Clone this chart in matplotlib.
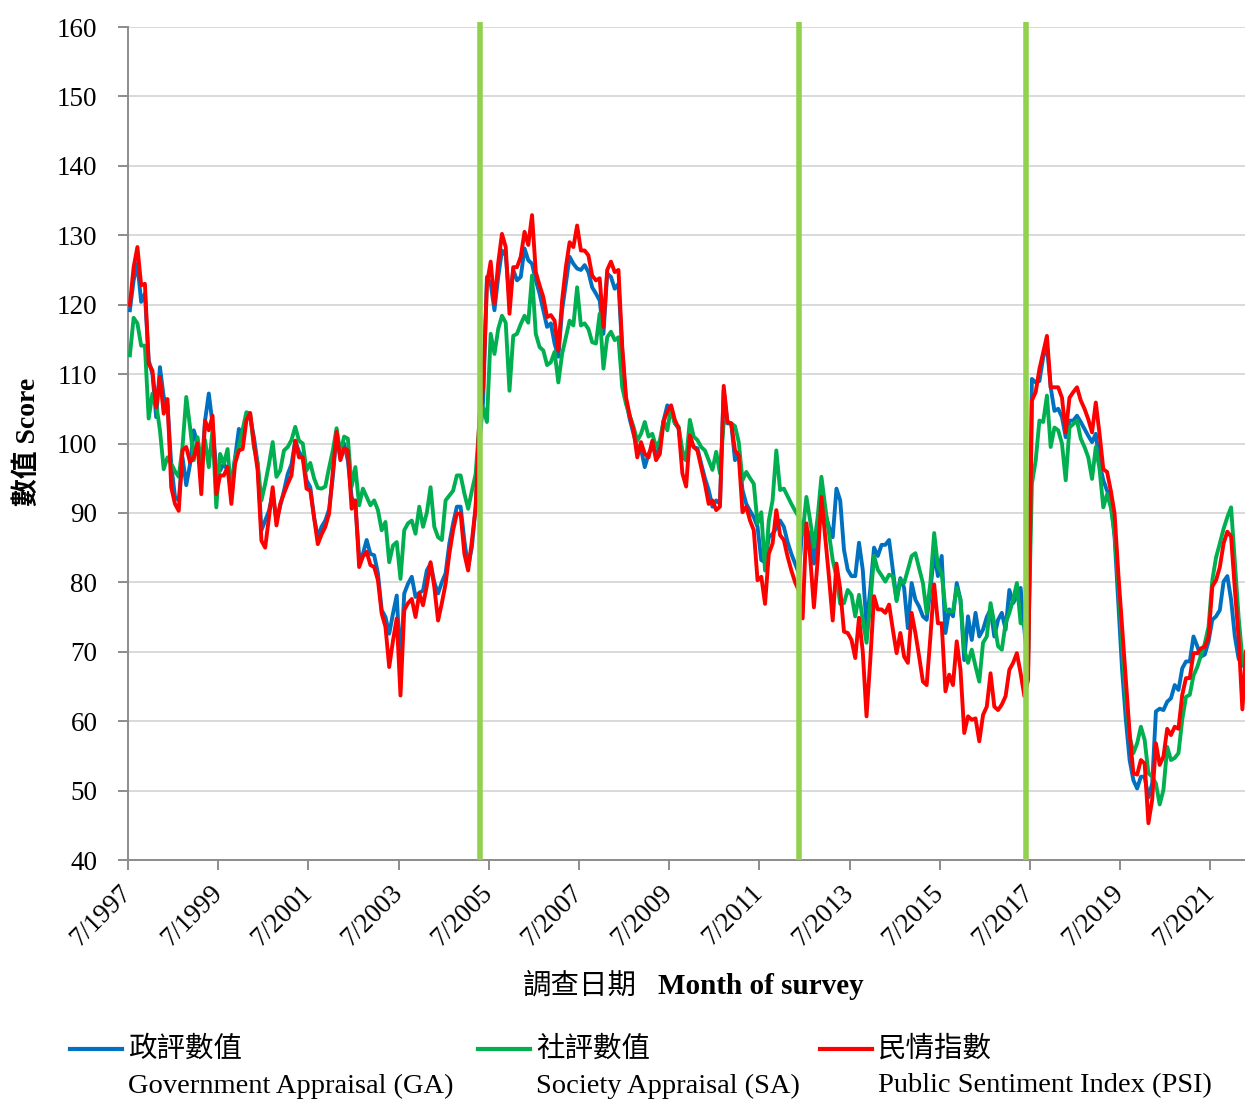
import numpy as np
import matplotlib
matplotlib.use("Agg")
import matplotlib.pyplot as plt
from matplotlib.lines import Line2D
from matplotlib.transforms import ScaledTranslation

# Monthly survey results, first entry = July 1997
psi = [
    120, 125.4, 128.3, 122.8, 123, 111.5, 110.5, 105.2, 109.6, 104.3,
    106.4, 93.7, 91.3, 90.3, 99, 99.5, 97.3, 98, 100, 92.7,
    103.3, 101.9, 104, 92.7, 95.4, 95.4, 96.6, 91.3, 97.1, 99,
    99.2, 103.3, 104.4, 100, 96.1, 86, 85, 89.4, 93.7, 88.2,
    91.3, 92.8, 94.2, 95.4, 100.4, 98, 98, 93.5, 93.2, 89.4,
    85.5, 86.9, 88, 89.9, 96, 101.7, 97.6, 99.3, 99, 90.6,
    91.8, 82.2, 83.7, 84.4, 82.5, 82.2, 80.3, 75.5, 73.6, 67.8,
    71.6, 74.8, 63.7, 76, 77, 77.6, 75, 78.4, 76.7, 79.5,
    82.9, 79.3, 74.5, 77, 79.8, 84.1, 87.5, 89.9, 89.9, 84.1,
    81.7, 86, 90.8, 104, 108.1, 123, 126.2, 120.1, 126, 130.2,
    128.3, 118.7, 125.4, 125.4, 126.9, 130.5, 128.6, 132.9, 124.7, 122.8,
    121.1, 118.2, 118.5, 117.7, 113.4, 120.6, 125.4, 129, 128.3, 131.4,
    127.8, 127.8, 127.1, 124.2, 123.5, 123.8, 116.8, 125, 126.2, 124.7,
    125, 113.9, 106.7, 104, 101.9, 98, 100.2, 98.5, 98, 100.4,
    97.6, 98.5, 103.2, 104.6, 105.5, 103.4, 102.2, 95.7, 93.8, 101.2,
    99.5, 99, 96.6, 94.2, 91.3, 91.8, 90.4, 90.9, 108.3, 103.1,
    102.9, 99, 98.3, 90.1, 90.9, 88.9, 87.5, 80.3, 80.8, 76.9,
    84.1, 85.6, 90.4, 86.8, 86.1, 83.7, 81.7, 80, 78.8, 74.8,
    88.5, 83.7, 76.4, 83.2, 92.3, 86.5, 80.8, 74.5, 82.7, 79,
    72.9, 72.7, 71.7, 69.1, 74.9, 70, 60.7, 68.8, 78, 76.1,
    76.1, 75.6, 76.8, 73.2, 69.8, 72.7, 69.3, 68.4, 75.6, 72.7,
    69.3, 65.7, 65.2, 72.2, 79.7, 74.1, 74.1, 64.3, 66.7, 65.2,
    71.5, 67.4, 58.3, 60.7, 60.2, 60.4, 57.1, 60.9, 62.1, 66.9,
    62.1, 61.6, 62.4, 63.6, 67.4, 68.4, 69.8, 66.9, 63.6, 66,
    106.2, 107.4, 110.7, 113.1, 115.5, 108.1, 108.1, 108.1, 106.6, 101.6,
    106.6, 107.4, 108.1, 106.2, 105, 103.5, 101.6, 105.9, 101.4, 96.3,
    95.9, 93.2, 89.9, 81.2, 73.6, 65.9, 58.3, 52.5, 52.3, 54.4,
    53.9, 45.3, 48.7, 56.8, 53.7, 54.9, 58.9, 58, 59.2, 58.9,
    63.8, 66.2, 66.2, 69.8, 69.8, 70.5, 70.7, 72.1, 79.4, 80.3,
    82.2, 85.6, 87.3, 86.6, 79, 72, 61.7, 70.3,
]

ga = [
    119.2, 123.5, 125.9, 120.4, 121.6, 112, 110, 103.8, 111, 106.7,
    105.7, 97, 92.3, 91.8, 98, 94, 97, 101.9, 100, 95.6,
    103.3, 107.2, 102.8, 96, 96.1, 97.1, 96.1, 94.2, 98, 102.1,
    101.4, 103.8, 103.8, 100.9, 97.1, 87.5, 88.9, 90.3, 92.7, 88.9,
    91, 93.2, 95.6, 97, 100.4, 98.8, 98, 94.7, 93.7, 89.4,
    86.5, 88, 88.9, 90.5, 95.2, 101.4, 98.1, 100, 97.5, 92.3,
    91, 83.7, 84.1, 86.1, 84.1, 83.9, 81.3, 76, 75, 72.6,
    75.5, 78.1, 67.8, 78.4, 79.8, 80.8, 77.9, 78.5, 78.8, 81.7,
    82.7, 80, 78.4, 80, 81.3, 85.6, 88.5, 90.9, 90.9, 86,
    82.2, 85.1, 90.9, 100, 106.2, 124, 123, 119.2, 124, 127.8,
    127.1, 120.6, 125, 123.5, 124, 128.1, 126.4, 125.9, 123.5, 121.6,
    119.2, 116.8, 117.3, 114.4, 112.5, 119.2, 123, 126.9, 125.9, 125.2,
    125, 125.7, 124.7, 122.5, 121.6, 120.6, 115.8, 124.5, 124, 122.3,
    123, 113.4, 106.2, 103.5, 101.4, 99.5, 99.2, 96.6, 98.5, 99.5,
    98.5, 99.5, 103.3, 105.5, 104.8, 102.9, 102.2, 98.1, 97.6, 100.5,
    99.5, 99.3, 97.1, 95, 93.3, 90.9, 91.8, 91.3, 107.7, 102.9,
    102.9, 97.6, 98.6, 93.3, 91.3, 90.3, 89.4, 88, 83.2, 82.9,
    86.5, 87, 87.8, 88.9, 88, 85.8, 84.1, 82.7, 81.3, 88.5,
    87.5, 87, 82.7, 88.5, 89.5, 89.9, 88, 86.5, 93.5, 91.8,
    84.7, 81.8, 80.9, 80.9, 85.7, 81.8, 73.7, 79, 85, 83.8,
    85.4, 85.4, 86.1, 81.8, 77.5, 80.6, 79.2, 73.4, 79.9, 77.5,
    76.5, 75.1, 74.6, 79, 84.2, 80.9, 83.8, 72.7, 76.1, 75.1,
    79.9, 77.5, 68.8, 75.1, 71.7, 75.6, 72.2, 73.2, 75, 76.1,
    72.2, 74.6, 75.6, 73.2, 78.9, 77, 78, 79.2, 73.2, 68,
    109.3, 108.8, 109, 112.4, 114.1, 108.1, 104.7, 105, 103.8, 100.9,
    103.3, 103.3, 104, 103.1, 102.1, 101.1, 100.2, 101.4, 97.1, 94.7,
    93.2, 91.8, 86.5, 76.9, 67.4, 60.2, 54.4, 51.5, 50.3, 52,
    52, 49, 51, 61.4, 61.8, 61.6, 62.8, 63.3, 65.2, 64.5,
    67.6, 68.6, 68.6, 72.2, 70.8, 69.3, 69.6, 71.5, 74.6, 75.1,
    76, 80.1, 80.9, 77.5, 72.2, 69, 68, 68,
]

sa = [
    112.7, 118.1, 117.3, 114.1, 114.1, 103.6, 107.2, 105.7, 101.9, 96.3,
    98, 97.1, 96, 95.2, 99.5, 106.7, 102.4, 97.6, 100.9, 97.1,
    100.5, 96.6, 102, 90.8, 98.5, 97.1, 99.2, 92.3, 98, 99.5,
    102, 104.5, 104.3, 99.5, 97.1, 91.8, 94.2, 97, 100.2, 95.2,
    96.1, 99, 99.5, 100.5, 102.4, 100.4, 100, 96.1, 97.2, 95,
    93.6, 93.5, 93.8, 96.5, 99, 102.2, 98.6, 101, 100.7, 93.8,
    96.6, 91.1, 93.5, 92.3, 91.1, 91.8, 90.4, 87.5, 88.7, 82.9,
    85.3, 85.8, 80.5, 87.5, 88.5, 88.9, 87, 90.9, 88, 90,
    93.7, 88, 86.5, 86.1, 91.8, 92.5, 93.2, 95.4, 95.4, 92.8,
    90.6, 93.2, 95.6, 103, 105.2, 103.1, 115.8, 112.9, 116.5, 118.4,
    117.4, 107.6, 115.5, 115.8, 117.2, 118.4, 117.4, 124.2, 115.8, 113.9,
    113.4, 111.3, 111.7, 113.2, 108.8, 112.9, 115.3, 117.7, 117, 122.5,
    117, 117.3, 116.5, 114.6, 114.4, 118.7, 110.8, 115.3, 116.1, 114.9,
    115.3, 108.1, 105.7, 104, 102.4, 100.4, 101.4, 103.1, 101, 101.4,
    99.5, 100.4, 103.3, 101.9, 105.3, 102.9, 102.4, 99, 97.6, 103.4,
    101, 100.5, 99.5, 99, 97.6, 96.2, 98.8, 95.7, 103, 103.1,
    102.9, 102.5, 100.2, 94.7, 95.9, 95, 94.2, 88.5, 90.1, 81.7,
    88.9, 91.8, 99, 93.3, 93.5, 92.4, 91.3, 90.3, 89.4, 87,
    92.3, 88.9, 85.1, 89.4, 95.2, 90.9, 87, 83.2, 80.8, 76.9,
    77, 78.9, 78.2, 75.1, 78.2, 74.6, 71.3, 77, 83.8, 81.8,
    81, 80.1, 81.1, 80.9, 77.3, 80.4, 79.9, 81.8, 83.8, 84.2,
    82, 79.9, 75.6, 80, 87.1, 82.3, 81.3, 76.1, 75.8, 75.8,
    79.2, 77.5, 70.3, 68.4, 70.3, 67.9, 65.7, 71.3, 72.2, 77,
    74.1, 70.8, 70.3, 74.1, 75.6, 77.5, 79.9, 74.1, 74, 70,
    94.2, 97.5, 103.3, 103.1, 106.9, 99.5, 102.3, 101.9, 100, 94.7,
    102.3, 102.8, 103.3, 100.7, 99.5, 98, 94.9, 99.5, 96.3, 90.8,
    92.7, 90.8, 87, 79.8, 71.2, 63.5, 57.8, 55.4, 56.8, 59.2,
    57.3, 52.5, 52, 51, 48, 50.1, 56.3, 54.4, 54.7, 55.4,
    60.2, 63.5, 63.8, 66.6, 67.8, 69.5, 71.2, 73.6, 80.3, 83.6,
    85.6, 87.7, 89.4, 90.8, 83, 75, 69, 67,
]

# Months elapsed since July 1997; each survey sits mid-month
months = np.arange(len(psi)) + 0.5

tick_months = list(range(0, 289, 24))
tick_labels = ['7/1997', '7/1999', '7/2001', '7/2003', '7/2005', '7/2007',
               '7/2009', '7/2011', '7/2013', '7/2015', '7/2017', '7/2019',
               '7/2021']

# Changes of Chief Executive term (months since July 1997)
term_breaks = [93.7, 178.5, 239.0]

series_values = [ga, sa, psi]
series_zh = ['政評數值', '社評數值', '民情指數']
series_en = ['Government Appraisal (GA)', 'Society Appraisal (SA)',
             'Public Sentiment Index (PSI)']
series_colors = ['#0070C0', '#00B050', '#FF0000']

SERIF = 'Liberation Serif'
CJK = 'Noto Sans CJK TC'

W, H = 1245, 1100
fig = plt.figure(figsize=(W / 100, H / 100), dpi=100)
ax = fig.add_axes([128 / W, 1 - 860 / H, (W - 128) / W, (860 - 27) / H])

for vals, col in zip(series_values, series_colors):
    ax.plot(months, vals, color=col, lw=2.8, solid_joinstyle='round', zorder=3)

for xb in term_breaks:
    ax.plot([xb, xb], [40, 160.7], color='#92D050', lw=4.0, zorder=5,
            clip_on=False, solid_capstyle='butt')

ax.set_xlim(0, 297.2)
ax.set_ylim(40, 160)
ax.set_yticks(np.arange(40, 161, 10))
ax.yaxis.grid(True, color='#D9D9D9', lw=1.4)
ax.set_axisbelow(True)

for s in ('top', 'right'):
    ax.spines[s].set_visible(False)
for s in ('left', 'bottom'):
    ax.spines[s].set_color('#8C8C8C')
    ax.spines[s].set_linewidth(1.4)

ax.set_xticks(tick_months)
ax.set_xticklabels(tick_labels, rotation=45, ha='right', va='center',
                   rotation_mode='anchor', fontfamily=SERIF, fontsize=19.5)
shift = ScaledTranslation(5 / 100, 0, fig.dpi_scale_trans)
for lab in ax.get_xticklabels():
    lab.set_transform(lab.get_transform() + shift)
for lab in ax.get_yticklabels():
    lab.set_fontfamily(SERIF)
    lab.set_fontsize(19.5)
ax.tick_params(axis='both', direction='out', length=7, width=1.4,
               color='#8C8C8C')
ax.tick_params(axis='y', pad=15)
ax.tick_params(axis='x', pad=14)

# Axis titles
fig.text(28 / W, 1 - 442 / H, '數值 Score', rotation=90, ha='center',
         va='center', fontsize=20, fontweight='bold', family=[SERIF, CJK])
fig.text(637 / W, 1 - 986 / H, '調查日期', ha='right', va='center',
         fontsize=20.5, family=CJK)
fig.text(658 / W, 1 - 986 / H, 'Month of survey', ha='left', va='center',
         fontsize=21, fontweight='bold', family=SERIF)

# Legend, laid out in three columns below the axis
legend_x = [70, 478, 820]
for x0, zh, en, col in zip(legend_x, series_zh, series_en, series_colors):
    fig.add_artist(Line2D([x0 / W, (x0 + 52) / W], [1 - 1049 / H, 1 - 1049 / H],
                          color=col, lw=3, transform=fig.transFigure))
    fig.text((x0 + 58) / W, 1 - 1049 / H, zh, ha='left', va='center',
             fontsize=20.5, family=CJK)
    fig.text((x0 + 58) / W, 1 - 1086 / H, en, ha='left', va='center',
             fontsize=20.5, family=SERIF)

fig.savefig('out.png', dpi=100)
